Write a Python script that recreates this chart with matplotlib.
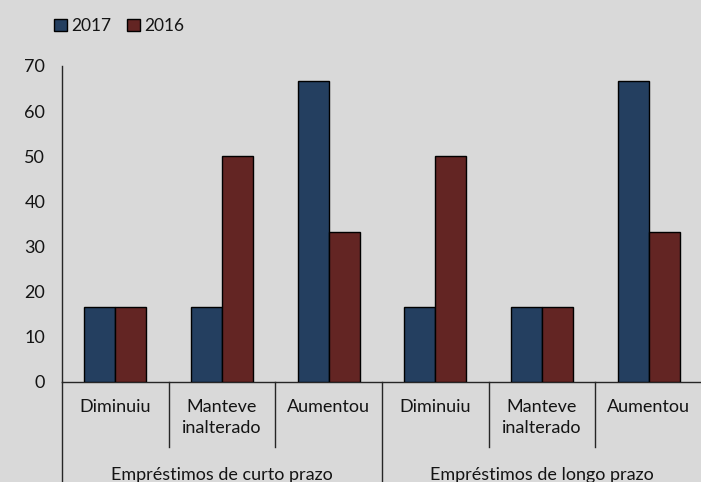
import matplotlib
matplotlib.use("Agg")
import matplotlib.pyplot as plt
import matplotlib.transforms as mtransforms
import numpy as np

# Loan demand survey: share of answers per category, 2017 vs 2016
categories = ["Diminuiu", "Manteve\ninalterado", "Aumentou",
              "Diminuiu", "Manteve\ninalterado", "Aumentou"]
groups = ["Empréstimos de curto prazo", "Empréstimos de longo prazo"]
values_2017 = [16.67, 16.67, 66.67, 16.67, 16.67, 66.67]
values_2016 = [16.67, 50.0, 33.33, 50.0, 16.67, 33.33]
yticks = [0, 10, 20, 30, 40, 50, 60, 70]

BG = "#D9D9D9"
BLUE = "#243F60"
RED = "#632523"
TEXT = "#141414"
FS = 13

plt.rcParams["font.family"] = ["Lato", "DejaVu Sans"]

fig = plt.figure(figsize=(7.01, 4.82), dpi=100, facecolor=BG)
ax = fig.add_axes([62 / 701, 1 - 382 / 482, 640 / 701, 316 / 482])
ax.set_facecolor(BG)

x = np.arange(len(categories))
w = 0.29
ax.bar(x - w / 2, values_2017, width=w, color=BLUE, edgecolor="black", linewidth=1.0,
       label="2017", zorder=3)
ax.bar(x + w / 2, values_2016, width=w, color=RED, edgecolor="black", linewidth=1.0,
       label="2016", zorder=3)

ax.set_xlim(-0.5, len(categories) - 0.5)
ax.set_ylim(0, 70)
ax.set_yticks(yticks)
ax.set_yticklabels([str(t) for t in yticks], fontsize=FS, color=TEXT)
ax.tick_params(axis="y", length=0, pad=12)
ax.set_xticks([])

for side in ("top", "right"):
    ax.spines[side].set_visible(False)
for side in ("left", "bottom"):
    ax.spines[side].set_color("#262626")
    ax.spines[side].set_linewidth(1.0)

# two-level category axis drawn below the plot
trans = mtransforms.blended_transform_factory(ax.transData, ax.transAxes)
short_h = -65 / 316
long_h = -100 / 316
for xb in [0.5, 1.5, 3.5, 4.5]:
    ax.plot([xb, xb], [0, short_h], transform=trans, color="#262626", lw=1.0, clip_on=False)
for xb in [-0.5, 2.5, 5.5]:
    ax.plot([xb, xb], [0, long_h], transform=trans, color="#262626", lw=1.0, clip_on=False)

for xi, lab in zip(x, categories):
    ax.text(xi, -0.055, lab, transform=trans, ha="center", va="top", fontsize=FS,
            color=TEXT, linespacing=1.35)

for gi, g in enumerate(groups):
    ax.text(gi * 3 + 1, -93 / 316, g, transform=trans, ha="center", va="center",
            fontsize=FS, color=TEXT)

fig.legend(loc="center left", bbox_to_anchor=(54 / 701, 1 - 26 / 482), ncol=2,
           frameon=False, fontsize=12.5, handlelength=0.75, handleheight=0.75,
           handletextpad=0.25, columnspacing=0.9, borderpad=0, borderaxespad=0,
           labelcolor=TEXT)

fig.savefig("out.png", dpi=100, facecolor=BG)
